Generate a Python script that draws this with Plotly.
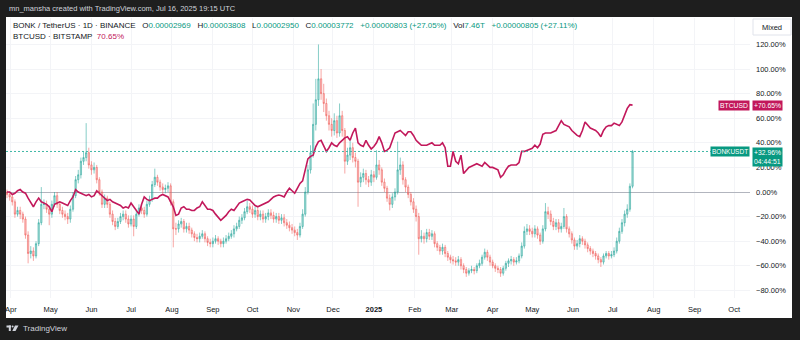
import plotly.graph_objects as go
import pandas as pd

# ---------------- data (percent change vs first bar, 2-day bars) ----------------
START = "2024-03-29"

bonk_close = [-2, -4, -8, -18, -15, -18, -22, -35, -50, -48,
              -52, -42, -25, -10, -10, -14, -18, -10, -3, -10,
              -15, -18, -20, -22, -14, -3, 10, 14, 25, 28,
              32, 22, 18, 20, 10, 0, -10, -5, -10, -18,
              -24, -28, -24, -20, -18, -22, -26, -22, -28, -18,
              -13, -15, -18, -10, -6, 6, 12, 8, 4, 2,
              3, 5, -8, -30, -30, -26, -24, -30, -28, -31,
              -34, -37, -38, -36, -34, -38, -41, -42, -40, -38,
              -40, -42, -40, -38, -36, -34, -30, -28, -23, -21,
              -16, -12, -14, -18, -15, -20, -18, -22, -20, -17,
              -19, -22, -20, -23, -21, -25, -27, -29, -31, -33,
              -35, -28, -18, 0, 18, 32, 55, 75, 92, 80,
              72, 62, 55, 50, 58, 48, 62, 50, 25, 30,
              36, 28, 25, 8, 12, 15, 10, 8, 14, 12,
              22, 18, 8, 3, -5, -10, -4, 0, 18, 22,
              10, 4, -2, -8, -14, -20, -38, -36, -38, -33,
              -36, -34, -42, -45, -48, -45, -50, -53, -55, -56,
              -57, -55, -60, -63, -66, -64, -63, -64, -60, -58,
              -53, -49, -53, -57, -60, -62, -63, -66, -62, -58,
              -56, -55, -57, -56, -52, -44, -32, -30, -32, -34,
              -30, -35, -40, -30, -16, -18, -24, -28, -25, -30,
              -28, -20, -30, -34, -39, -44, -42, -38, -40, -43,
              -46, -48, -50, -52, -55, -57, -52, -50, -52, -51,
              -48, -40, -32, -25, -18, -14, 4.65, 32.96]

bonk_high = [2, 0, -2, -6, -12, -12, -16, -20, -32, -44,
             -45, -40, -22, 4, -6, -7, -11, -7, 0, 0,
             -8, -12, -15, -17, -11, 0, 13, 18, 28, 33,
             56, 36, 25, 24, 22, 12, 2, -2, -3, -8,
             -15, -21, -21, -17, -15, -15, -19, -19, -19, -15,
             -10, -10, -12, -7, -3, 9, 19, 14, 10, 7,
             6, 8, 7, -6, -25, -23, -21, -22, -25, -25,
             -29, -32, -34, -33, -31, -32, -36, -38, -37, -35,
             -36, -38, -37, -35, -33, -31, -27, -25, -20, -18,
             -13, -7, -9, -11, -12, -13, -15, -15, -17, -14,
             -14, -16, -17, -17, -18, -18, -22, -24, -26, -28,
             -30, -25, -14, 4, 22, 38, 72, 92, 120, 100,
             88, 76, 66, 60, 64, 62, 72, 66, 52, 36,
             42, 40, 32, 27, 16, 19, 18, 13, 18, 17,
             34, 26, 20, 11, 5, -2, -1, 3, 41, 28,
             25, 12, 6, 0, -5, -11, -17, -31, -33, -30,
             -30, -31, -32, -40, -43, -42, -43, -48, -51, -52,
             -53, -52, -53, -58, -61, -62, -60, -61, -58, -55,
             -51, -46, -47, -51, -55, -58, -60, -61, -60, -56,
             -54, -52, -53, -53, -50, -41, -28, -26, -27, -29,
             -27, -28, -33, -27, -9, -12, -15, -21, -22, -22,
             -25, -13, -18, -28, -32, -37, -39, -35, -36, -38,
             -41, -44, -46, -48, -50, -53, -50, -48, -48, -48,
             -45, -37, -29, -22, -15, -10, 7, 34.2]

bonk_low = [-5, -7, -11, -21, -20, -22, -25, -38, -58, -54,
            -56, -54, -44, -27, -14, -17, -27, -21, -12, -13,
            -18, -21, -23, -26, -25, -16, -5, 7, 11, 22,
            25, 19, 14, 15, 7, -3, -13, -13, -13, -21,
            -27, -31, -30, -26, -23, -25, -29, -28, -36, -30,
            -20, -18, -21, -20, -12, -8, 4, 5, 1, -1,
            -1, 0, -11, -45, -35, -33, -29, -33, -33, -34,
            -37, -40, -41, -41, -38, -41, -44, -45, -45, -42,
            -43, -45, -45, -42, -40, -38, -37, -32, -30, -26,
            -23, -18, -17, -21, -21, -23, -23, -25, -25, -23,
            -22, -25, -25, -26, -26, -28, -30, -32, -34, -36,
            -39, -37, -30, -20, -2, 15, 28, 50, 70, 75,
            65, 58, 50, 45, 46, 44, 45, 45, 15, 22,
            26, 24, 20, -12, 4, 8, 6, 4, 5, 8,
            10, 14, 5, 0, -8, -15, -13, -7, -2, 14,
            6, 0, -5, -11, -17, -24, -51, -41, -42, -41,
            -39, -39, -45, -48, -51, -51, -53, -56, -58, -59,
            -60, -60, -63, -66, -69, -68, -66, -67, -66, -62,
            -60, -55, -56, -60, -62, -65, -66, -69, -68, -64,
            -61, -59, -60, -59, -58, -54, -46, -35, -35, -37,
            -37, -38, -43, -42, -32, -22, -27, -31, -31, -33,
            -33, -30, -33, -37, -42, -47, -47, -45, -43, -46,
            -49, -51, -53, -55, -58, -61, -59, -54, -55, -54,
            -53, -50, -42, -34, -28, -21, -16, 3]

btc_pct = [0, 0, -2, -1, 1, 2, 0, -1, -5, -8,
           -12, -8, -5, -8, -9, -10, -12, -16, -10, -9,
           -8, -9, -10, -11, -7, -4, 2, 0, -1, -2,
           -3, -2, -4, -3, 1, -1, -3, -5, -7, -6,
           -8, -9, -10, -11, -13, -12, -13, -9, -12, -15,
           -18, -10, -4, -6, -7, -6, -5, -5, -3, -2,
           -3, -4, -8, -12, -19, -18, -13, -12, -14, -14,
           -15, -15, -13, -12, -8, -11, -14, -14, -15, -18,
           -21, -23, -21, -19, -16, -14, -15, -12, -9, -8,
           -7, -6, -6.5, -9, -11, -12, -11, -10, -9, -8,
           -6, -4, -3, -2.5, -3, -4, 0, 3, 1, -1,
           3, 7, 9, 18, 27, 29, 30, 37, 41, 42,
           38, 33, 36, 40, 38, 37, 40, 42, 44, 45,
           42, 48, 52, 40, 38, 37, 42, 38, 35, 37,
           40, 45, 40, 33, 34, 36, 42, 48, 49, 50,
           48, 46, 49, 49, 46, 42, 40, 38, 38, 38,
           39, 40, 38, 38, 38, 40, 36, 21, 21, 33,
           25, 23, 30, 15, 18, 20, 21, 22, 23, 22,
           21, 24, 22, 20, 20, 19, 18, 12, 14, 18,
           21, 22, 22, 22, 24, 33, 33, 34, 35, 35.5,
           38, 36, 39, 47, 48, 48, 48, 49, 50, 54,
           58, 55, 54, 53, 50, 48, 46, 45, 50, 57,
           54, 52, 51, 50, 48, 45, 50, 53, 54, 54,
           56, 55, 54, 57, 63, 68, 71, 70.65]

month_ticks = ["2024-04-01", "2024-05-01", "2024-06-01", "2024-07-01", "2024-08-01",
               "2024-09-01", "2024-10-01", "2024-11-01", "2024-12-01", "2025-01-01",
               "2025-02-01", "2025-03-01", "2025-04-01", "2025-05-01", "2025-06-01",
               "2025-07-01", "2025-08-01", "2025-09-01", "2025-10-01"]
month_labels = ["Apr", "May", "Jun", "Jul", "Aug", "Sep", "Oct", "Nov", "Dec", "<b>2025</b>",
                "Feb", "Mar", "Apr", "May", "Jun", "Jul", "Aug", "Sep", "Oct"]
y_ticks = [-80, -60, -40, -20, 0, 20, 40, 60, 80, 100, 120]
y_labels = ["\u221280.00%", "\u221260.00%", "\u221240.00%", "\u221220.00%", "0.00%",
            "20.00%", "40.00%", "60.00%", "80.00%", "100.00%", "120.00%"]

# ---------------- figure ----------------
dates = pd.date_range(START, periods=len(bonk_close), freq="2D")
bonk_open = [0.0] + bonk_close[:-1]

W, H = 800, 340
ML, MR, MT, MB = 6, 50, 18, 42
PW, PH = W - ML - MR, H - MT - MB


def px(x):
    return (x - ML) / PW


def py(y):
    return (H - MB - y) / PH


FONT = "Liberation Sans, Arial, sans-serif"
DARK = "#131722"
TEAL = "#089981"
MAG = "#c2185b"
BG = "#1e1e1e"

fig = go.Figure()
fig.add_trace(go.Candlestick(
    x=dates, open=bonk_open, high=bonk_high, low=bonk_low, close=bonk_close,
    increasing=dict(line=dict(color="rgba(38,166,154,0.7)", width=0.8),
                    fillcolor="rgba(38,166,154,0.35)"),
    decreasing=dict(line=dict(color="rgba(239,83,80,0.65)", width=0.8),
                    fillcolor="rgba(239,83,80,0.3)"),
    whiskerwidth=0, showlegend=False, hoverinfo="skip"))
fig.add_trace(go.Scatter(
    x=dates, y=btc_pct, mode="lines",
    line=dict(color=MAG, width=1.6), showlegend=False, hoverinfo="skip"))

start = pd.Timestamp(START)
x_range = [start - pd.Timedelta(hours=18), start + pd.Timedelta(days=563)]

fig.update_layout(
    width=W, height=H,
    margin=dict(l=ML, r=MR, t=MT, b=MB),
    paper_bgcolor=BG, plot_bgcolor="white",
    font=dict(family=FONT, size=8, color=DARK),
    xaxis=dict(type="date", range=x_range, tickvals=month_ticks, ticktext=month_labels,
               showgrid=True, gridcolor="#f3f4f7", zeroline=False, showline=False,
               ticks="", ticklabelstandoff=5, tickfont=dict(size=7.5, color=DARK),
               rangeslider=dict(visible=False), fixedrange=True),
    yaxis=dict(side="right", range=[-86.2, 141.5], tickvals=y_ticks, ticktext=y_labels,
               showgrid=True, gridcolor="#f3f4f7", zeroline=True, zerolinecolor="#b2b5be",
               zerolinewidth=1, showline=False, ticks="", ticklabelstandoff=5,
               tickfont=dict(size=7.5, color=DARK), fixedrange=True),
)

shapes = [
    # white chart panel
    dict(type="rect", xref="paper", yref="paper", x0=px(6), x1=px(792), y0=py(318), y1=py(17),
         fillcolor="white", line=dict(width=0), layer="below"),
    # last price dotted line
    dict(type="line", xref="paper", yref="y", x0=0, x1=px(711), y0=bonk_close[-1], y1=bonk_close[-1],
         line=dict(color="#3fb8a6", width=1, dash="2px,2px")),
    # "Mixed" button
    dict(type="rect", xref="paper", yref="paper", x0=px(753), x1=px(791), y0=py(35), y1=py(19),
         fillcolor="white", line=dict(color="#e0e3eb", width=1)),
    # TradingView logo (approx.)
    dict(type="rect", xref="paper", yref="paper", x0=px(6.5), x1=px(11), y0=py(327.5), y1=py(325.5),
         fillcolor="#d1d4dc", line=dict(width=0)),
    dict(type="rect", xref="paper", yref="paper", x0=px(8.8), x1=px(10.8), y0=py(331), y1=py(325.5),
         fillcolor="#d1d4dc", line=dict(width=0)),
    dict(type="circle", xref="paper", yref="paper", x0=px(11.6), x1=px(13.6), y0=py(327.6), y1=py(325.6),
         fillcolor="#d1d4dc", line=dict(width=0)),
    dict(type="path", xref="paper", yref="paper",
         path=f"M {px(15)} {py(325.5)} L {px(18.5)} {py(325.5)} L {px(15.5)} {py(331)} L {px(12.3)} {py(331)} Z",
         fillcolor="#d1d4dc", line=dict(width=0)),
]
fig.update_layout(shapes=shapes)

sp = "\u00a0\u00a0\u00a0"


def t(s):
    return f'<span style="color:{TEAL}">{s}</span>'


line1 = ("BONK / TetherUS \u00b7 1D \u00b7 BINANCE" + sp +
         "O" + t("0.00002969") + sp + "H" + t("0.00003808") + sp +
         "L" + t("0.00002950") + sp + "C" + t("0.00003772") + sp +
         t("+0.00000803 (+27.05%)") + sp + "Vol" + t("7.46T") + sp +
         t("+0.00000805 (+27.11%)"))
line2 = "BTCUSD \u00b7 BITSTAMP" + "\u00a0\u00a0" + f'<span style="color:{MAG}">70.65%</span>'

annotations = [
    dict(text="mn_mansha created with TradingView.com, Jul 16, 2025 19:15 UTC",
         xref="paper", yref="paper", x=px(7), y=py(9), xanchor="left", yanchor="middle",
         showarrow=False, font=dict(size=7.5, color="#d1d4dc")),
    dict(text=line1, xref="paper", yref="paper", x=px(11), y=py(25), xanchor="left",
         yanchor="middle", showarrow=False, font=dict(size=8, color=DARK)),
    dict(text=line2, xref="paper", yref="paper", x=px(11), y=py(36), xanchor="left",
         yanchor="middle", showarrow=False, font=dict(size=8, color=DARK)),
    dict(text="Mixed", xref="paper", yref="paper", x=px(772), y=py(27), xanchor="center",
         yanchor="middle", showarrow=False, font=dict(size=7.5, color=DARK)),
    dict(text="TradingView", xref="paper", yref="paper", x=px(20.5), y=py(328), xanchor="left",
         yanchor="middle", showarrow=False, font=dict(size=8, color="#d1d4dc")),
    # right-side labels
    dict(text="BTCUSD", xref="paper", yref="y", x=px(749.5), y=btc_pct[-1], xanchor="right",
         yanchor="middle", showarrow=False, bgcolor=MAG, borderpad=1,
         font=dict(size=6.8, color="white")),
    dict(text="+70.65%", xref="paper", yref="y", x=px(752), y=btc_pct[-1], xanchor="left",
         yanchor="middle", showarrow=False, bgcolor=MAG, borderpad=1,
         font=dict(size=6.8, color="white")),
    dict(text="BONKUSDT", xref="paper", yref="y", x=px(749.5), y=bonk_close[-1], xanchor="right",
         yanchor="middle", showarrow=False, bgcolor=TEAL, borderpad=1,
         font=dict(size=6.5, color="white")),
    dict(text="+32.96%<br>04:44:51", xref="paper", yref="y", x=px(752), y=bonk_close[-1],
         xanchor="left", yanchor="top", yshift=4, align="left", showarrow=False,
         bgcolor=TEAL, borderpad=1, font=dict(size=6.8, color="white")),
]
fig.update_layout(annotations=annotations)

fig.write_html("out.html")
